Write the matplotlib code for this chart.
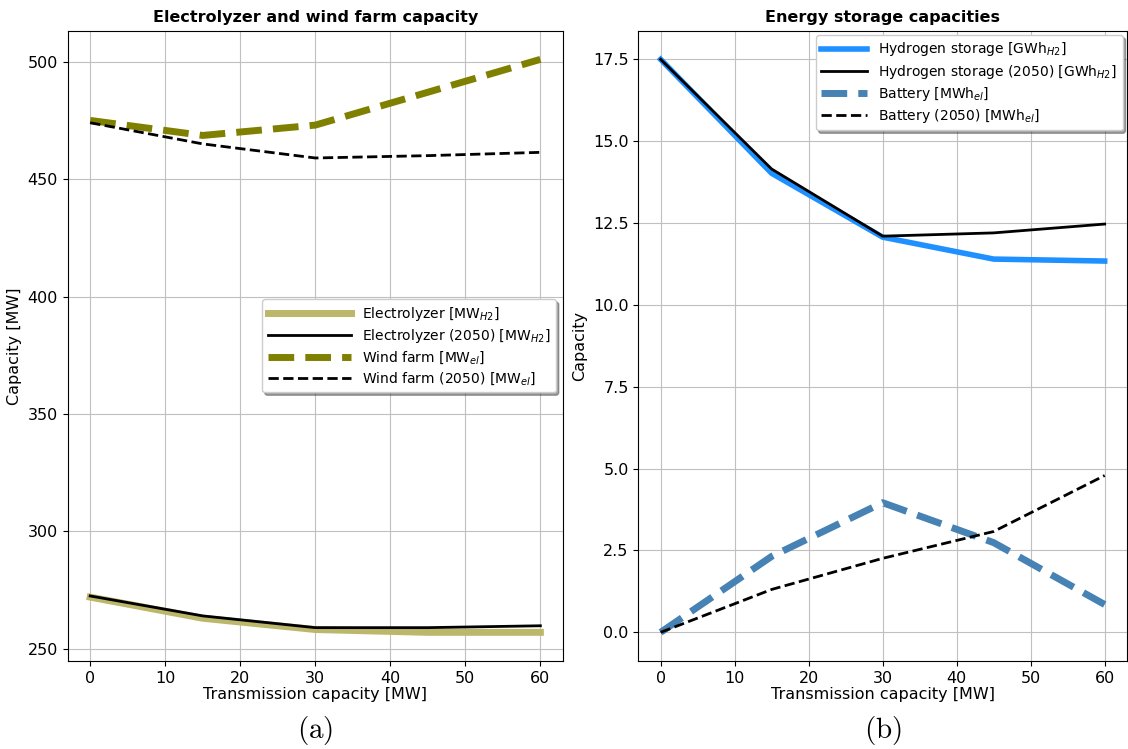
from matplotlib import pyplot as plt
import numpy as np

plt.rcParams['mathtext.fontset'] = 'dejavusans'

# transmission capacity [MW]
transmission = [0, 15, 30, 45, 60]

electrolyzer = [272.0, 263.0, 258.2, 257.0, 257.0]
electrolyzer_2050 = [272.5, 264.0, 259.0, 259.0, 259.8]
wind_farm = [475.0, 468.6, 473.0, 487.0, 501.0]
wind_farm_2050 = [474.0, 465.0, 459.0, 460.0, 461.4]

h2_storage = [17.5, 14.02, 12.07, 11.40, 11.34]
h2_storage_2050 = [17.5, 14.15, 12.10, 12.20, 12.47]
battery = [0.0, 2.32, 3.96, 2.74, 0.85]
battery_2050 = [0.0, 1.31, 2.26, 3.08, 4.79]

fs = 11.5

fig = plt.figure(figsize=(11.28, 7.49), dpi=100)
ax1 = fig.add_axes([0.060, 0.1175, 0.439, 0.8415])
ax2 = fig.add_axes([0.566, 0.1175, 0.433, 0.8415])

# (a) electrolyzer and wind farm
ax1.plot(transmission, electrolyzer, '-', color="darkkhaki", lw=5,
         label=r"Electrolyzer [MW$_{H2}$]")
ax1.plot(transmission, electrolyzer_2050, '-', color="black", lw=2,
         label=r"Electrolyzer (2050) [MW$_{H2}$]")
ax1.plot(transmission, wind_farm, '--', color="olive", lw=5,
         label=r"Wind farm [MW$_{el}$]")
ax1.plot(transmission, wind_farm_2050, '--', color="black", lw=2,
         label=r"Wind farm (2050) [MW$_{el}$]")
ax1.set_title("Electrolyzer and wind farm capacity", fontweight="bold", fontsize=fs)
ax1.set_ylabel("Capacity [MW]", fontsize=fs)
ax1.set_yticks([250, 300, 350, 400, 450, 500])
ax1.legend(loc="center right", shadow=True, fontsize=10, handlelength=6.0,
           labelspacing=0.3)

# (b) storage
ax2.plot(transmission, h2_storage, '-', color="dodgerblue", lw=4,
         label=r"Hydrogen storage [GWh$_{H2}$]")
ax2.plot(transmission, h2_storage_2050, '-', color="black", lw=2,
         label=r"Hydrogen storage (2050) [GWh$_{H2}$]")
ax2.plot(transmission, battery, '--', color="steelblue", lw=5,
         label=r"Battery [MWh$_{el}$]")
ax2.plot(transmission, battery_2050, '--', color="black", lw=2,
         label=r"Battery (2050) [MWh$_{el}$]")
ax2.set_title("Energy storage capacities", fontweight="bold", fontsize=fs)
ax2.set_ylabel("Capacity", fontsize=fs)
ax2.legend(loc="upper right", shadow=True, fontsize=10, handlelength=3.3,
           labelspacing=0.3, borderaxespad=0.3)

for ax, tag in [(ax1, "a"), (ax2, "b")]:
    ax.set_xticks(np.arange(0, 61, 10))
    ax.set_xlabel("Transmission capacity [MW]", fontsize=fs, labelpad=1)
    ax.tick_params(labelsize=fs)
    ax.grid(True, color="#c0c0c0")
    ax.text(0.5, -0.111, r"$\mathrm{(%s)}$" % tag, transform=ax.transAxes,
            ha="center", va="center", fontsize=21, math_fontfamily="cm")

fig.savefig("out.png", dpi=100)
